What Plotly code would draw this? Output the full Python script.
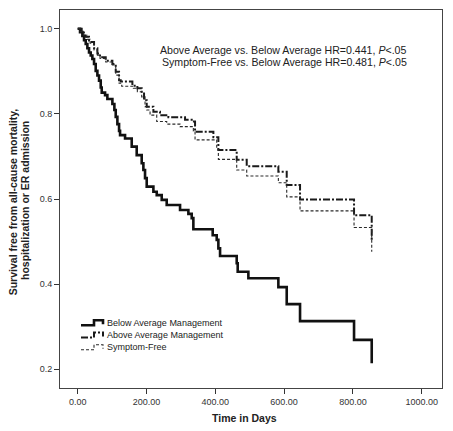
import plotly.graph_objects as go

# ---------------- data ----------------
below_t = [0, 6.8, 13.6, 18.4, 23.3, 28.1, 32.9, 37.8, 42.6, 47.5, 52.3, 57.2, 62.0, 66.9, 69.8,
           79.5, 86.2, 100.8, 106.6, 110.5, 115.3, 120.2, 123.1, 137.6, 157.0, 171.5, 186.0,
           190.9, 195.7, 200.6, 220.0, 229.7, 244.2, 258.7, 297.5, 321.7, 331.4, 336.2, 392.4,
           404.1, 408.9, 413.8, 462.2, 465.1, 496.1, 583.3, 607.6, 646.3, 803.3, 854.7]
below_s = [1.0, .992, .983, .973, .964, .954, .944, .937, .929, .917, .901, .890, .878, .862, .850,
           .844, .835, .823, .809, .793, .776, .760, .750, .742, .723, .703, .684,
           .668, .649, .629, .617, .609, .598, .586, .574, .565, .555, .529, .515,
           .504, .484, .466, .449, .429, .414, .393, .353, .313, .269, .214]

above_t = [0, 11.6, 21.3, 32.9, 47.5, 57.2, 64.9, 81.4, 100.8, 110.5, 120.2, 125.0, 158.9, 173.4,
           186.0, 192.8, 200.6, 220.0, 239.3, 263.6, 312.0, 331.4, 341.1, 394.4, 408.9, 462.2,
           491.3, 583.3, 607.6, 646.3, 803.3, 854.7]
above_s = [1.0, .991, .981, .969, .954, .942, .933, .925, .917, .899, .879, .876, .866, .860,
           .852, .832, .817, .805, .797, .792, .786, .782, .758, .745, .715, .692,
           .677, .664, .633, .599, .562, .500]

free_t = [0, 6.8, 16.5, 26.2, 35.9, 47.5, 57.2, 64.9, 81.4, 100.8, 110.5, 120.2, 127.9, 161.8,
          173.4, 186.0, 195.7, 200.6, 210.3, 229.7, 258.7, 297.5, 336.2, 341.1, 404.1, 408.9,
          462.2, 491.3, 583.3, 607.6, 646.3, 803.3, 854.7]
free_s = [1.0, .993, .985, .975, .966, .950, .938, .930, .922, .915, .891, .872, .865, .860,
          .852, .840, .817, .809, .797, .782, .776, .770, .760, .739, .717, .693,
          .668, .654, .638, .605, .572, .533, .476]

series_names = ["Below Average Management", "Above Average Management", "Symptom-Free"]
x_ticks = [0, 200, 400, 600, 800, 1000]
y_ticks = [0.2, 0.4, 0.6, 0.8, 1.0]
hr_lines = ["Above Average vs. Below Average HR=0.441, <i>P</i><.05",
            "Symptom-Free vs. Below Average HR=0.481, <i>P</i><.05"]

# ---------------- figure ----------------
W, H = 453, 431
L, R, T, B = 60, 11, 10, 43
PW, PH = W - L - R, H - T - B
FONT = "Liberation Sans, Arial, sans-serif"


def px(x):
    return (x - L) / PW


def py(y):
    return (H - B - y) / PH


fig = go.Figure()
styles = [
    dict(color="#111111", width=2.6, dash="solid"),
    dict(color="#1a1a1a", width=2.0, dash="7px,2px,2px,2px"),
    dict(color="#2a2a2a", width=1.1, dash="3px,2px"),
]
for t, s, name, st in zip([below_t, above_t, free_t], [below_s, above_s, free_s], series_names, styles):
    fig.add_trace(go.Scatter(x=t, y=s, mode="lines", name=name, line_shape="hv",
                             line=st, showlegend=False, hoverinfo="skip"))

annotations = []
shapes = []
# HR text
annotations.append(dict(x=px(409), y=py(49.7), xref="paper", yref="paper", text=hr_lines[0],
                        showarrow=False, xanchor="right", yanchor="middle",
                        font=dict(family=FONT, size=10.6, color="#222")))
annotations.append(dict(x=px(409), y=py(62.3), xref="paper", yref="paper", text=hr_lines[1],
                        showarrow=False, xanchor="right", yanchor="middle",
                        font=dict(family=FONT, size=10.6, color="#222")))

# manual legend
rows = [322.7, 335.0, 347.3]
for name, st, ry in zip(series_names, styles, rows):
    path = (f"M {px(81)},{py(ry + 2.5)} L {px(94)},{py(ry + 2.5)} L {px(94)},{py(ry - 2.5)} "
            f"L {px(103)},{py(ry - 2.5)} L {px(103)},{py(ry + 1.5)}")
    shapes.append(dict(type="path", xref="paper", yref="paper", path=path,
                       line=dict(color=st["color"], width=st["width"], dash=st["dash"])))
    annotations.append(dict(x=px(105), y=py(ry), xref="paper", yref="paper", text=name,
                            showarrow=False, xanchor="left", yanchor="middle",
                            font=dict(family=FONT, size=9, color="#222")))

# axis titles
annotations.append(dict(x=px(244), y=py(418), xref="paper", yref="paper", text="<b>Time in Days</b>",
                        showarrow=False, xanchor="center", yanchor="middle",
                        font=dict(family=FONT, size=10.5, color="#222")))
annotations.append(dict(x=px(13.3), y=py(202), xref="paper", yref="paper",
                        text="<b>Survival free from all-cause mortality,</b>", textangle=-90,
                        showarrow=False, xanchor="center", yanchor="middle",
                        font=dict(family=FONT, size=10.5, color="#222")))
annotations.append(dict(x=px(25), y=py(201), xref="paper", yref="paper",
                        text="<b>hospitalization or ER admission</b>", textangle=-90,
                        showarrow=False, xanchor="center", yanchor="middle",
                        font=dict(family=FONT, size=10.5, color="#222")))

fig.update_layout(
    width=W, height=H,
    margin=dict(l=L, r=R, t=T, b=B, pad=0),
    paper_bgcolor="white", plot_bgcolor="white",
    font=dict(family=FONT, size=9, color="#333"),
    annotations=annotations, shapes=shapes,
    hovermode=False,
    xaxis=dict(range=[-51.5, 1059], tickvals=x_ticks, tickformat=".2f", ticks="outside",
               ticklen=5, tickcolor="#333", showgrid=False, zeroline=False, showline=True,
               linecolor="#444", linewidth=1, mirror=True,
               tickfont=dict(family=FONT, size=9, color="#333")),
    yaxis=dict(range=[0.156, 1.044], tickvals=y_ticks, tickformat=".1f", ticks="outside",
               ticklen=5, tickcolor="#333", showgrid=False, zeroline=False, showline=True,
               linecolor="#444", linewidth=1, mirror=True,
               tickfont=dict(family=FONT, size=9, color="#333")),
)

fig.write_html("out.html", config={"displayModeBar": False},
               post_script="document.body.style.margin='0';document.body.style.overflow='hidden';")
